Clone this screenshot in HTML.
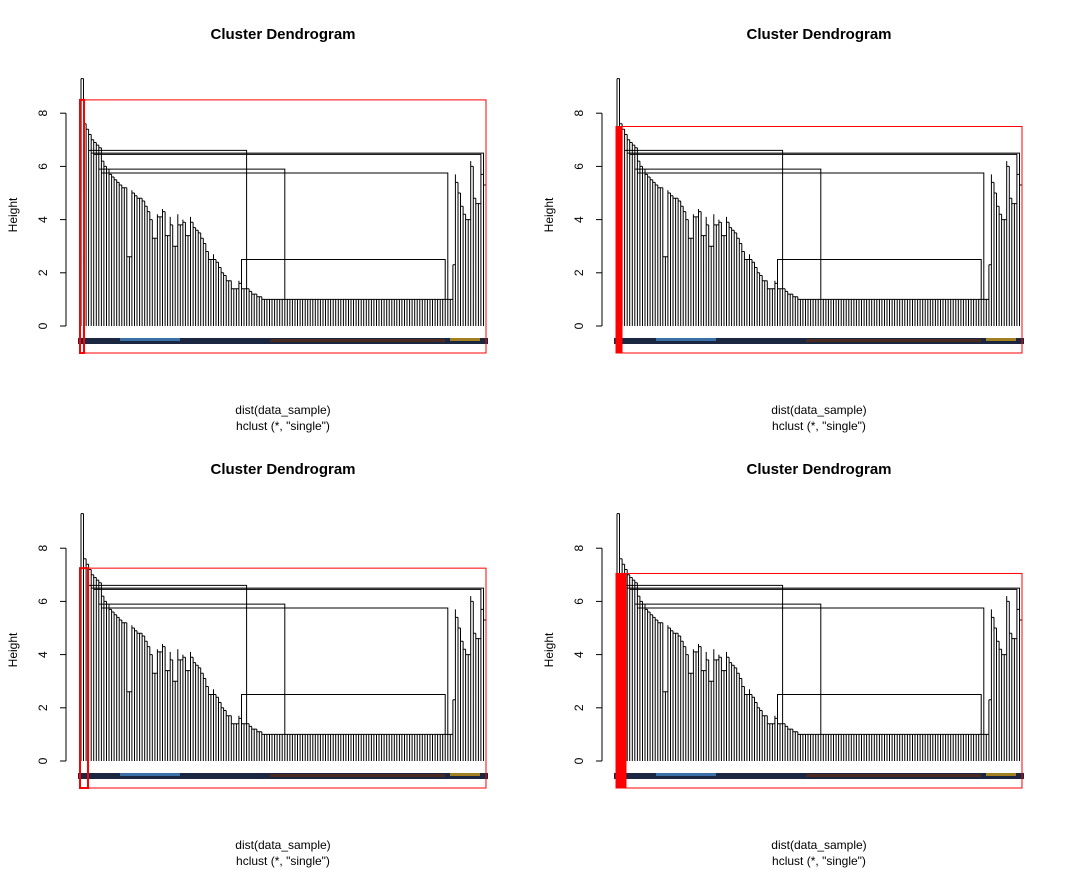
<!DOCTYPE html>
<html><head><meta charset="utf-8">
<style>
html,body{margin:0;padding:0;background:#fff;}
svg{display:block;font-family:"Liberation Sans",Arial,sans-serif;}
</style></head>
<body>
<svg id="chart" width="1071" height="870" viewBox="0 0 1071 870"></svg>
<script>
// leaf merge heights (left to right)
const leafHeights = [9.3,9.3,7.6,7.4,7.2,7.0,6.9,6.8,6.7,
6.2,6.0,5.9,5.7,5.6,5.5,5.4,5.3,5.2,5.2,2.6,5.1,5.0,4.9,4.8,4.8,4.7,4.5,4.3,4.0,3.3,4.2,4.1,4.4,4.3,3.4,4.1,3.8,3.0,4.2,3.8,4.0,3.9,3.4,4.1,3.9,3.7,3.6,3.5,3.3,3.1,2.8,2.5,2.7,2.5,2.4,2.2,2.0,1.9,1.7,1.7,1.4,1.4,1.7,1.6,1.4,1.4,1.4,1.3,1.2,1.2,1.1,1.1,
1.0,1.0,1.0,1.0,1.0,1.0,1.0,1.0,1.0,1.0,1.0,1.0,1.0,1.0,1.0,1.0,1.0,1.0,1.0,1.0,1.0,1.0,1.0,1.0,1.0,1.0,1.0,1.0,1.0,1.0,1.0,1.0,1.0,1.0,1.0,1.0,1.0,1.0,1.0,1.0,1.0,1.0,1.0,1.0,1.0,1.0,1.0,1.0,1.0,1.0,1.0,1.0,1.0,1.0,1.0,1.0,1.0,1.0,1.0,1.0,1.0,1.0,1.0,1.0,1.0,1.0,1.0,1.0,1.0,1.0,1.0,1.0,1.0,1.0,
2.3,5.7,5.4,5.0,4.5,4.2,4.0,6.2,6.0,4.8,4.6,6.4,5.7,5.3];
// extra long brackets: [leftLeaf, rightLeaf, height]
const bracketLeft = [3,4,5,7,8,63,72,0];
const bracketRight = [65,158,157,80,144,143,143,1];
const bracketHeight = [6.6,6.5,6.45,5.9,5.75,2.5,1.0,9.3];
const yTicks = [0,2,4,6,8];
// cut heights of red rectangles per panel
const cutHeights = [8.5,7.5,7.25,7.05];
const stripWidths = [4,6,8,10];
const stripFilled = [false,true,false,true];

const NS="http://www.w3.org/2000/svg";
const svg=document.getElementById('chart');
function mk(tag,attrs,parent){const e=document.createElementNS(NS,tag);for(const k in attrs)e.setAttribute(k,attrs[k]);(parent||svg).appendChild(e);return e;}

function drawPanel(p,ox,oy){
  const g=mk('g',{transform:`translate(${ox},${oy})`});
  
  
  const y0=326, sc=26.6, xL=81, xR=486;
  const n=leafHeights.length;
  const X=i=>xL+i*(xR-xL)/(n-1);
  const Y=v=>y0-v*sc;
  const t=mk('text',{x:283,y:39,'text-anchor':'middle','font-size':15,'font-weight':'bold'},g);
  t.textContent='Cluster Dendrogram';
  
  
  const ax=mk('g',{},g);
  
  
  mk('line',{x1:66,x2:66,y1:Y(0),y2:Y(8),stroke:'#000'},ax);
  yTicks.forEach(v=>{
    mk('line',{x1:60,x2:66,y1:Y(v),y2:Y(v),stroke:'#000'},ax);
    const tl=mk('text',{x:0,y:0,'text-anchor':'middle','font-size':12,transform:`translate(47,${Y(v)}) rotate(-90)`},ax);
    tl.textContent=v;
    
    
  });
  const yt=mk('text',{x:0,y:0,'text-anchor':'middle','font-size':12,transform:`translate(17,215) rotate(-90)`},g);
  yt.textContent='Height';
  
  
  const x1=mk('text',{x:283,y:414,'text-anchor':'middle','font-size':12},g);
  x1.textContent='dist(data_sample)';
  
  
  const x2=mk('text',{x:283,y:430,'text-anchor':'middle','font-size':12},g);
  x2.textContent='hclust (*, "single")';
  
  
  // leaf labels band
  const lb=mk('rect',{x:78,y:338,width:410,height:6,fill:'#1b2640'},g);
  
  
  mk('rect',{x:120,y:338,width:60,height:3,fill:'#3a6fa8'},g);
  mk('rect',{x:270,y:339,width:175,height:3,fill:'#4a2a20'},g);
  mk('rect',{x:450,y:338,width:30,height:3,fill:'#a08020'},g);
  const tree=mk('g',{stroke:'#000','stroke-width':1,fill:'none'},g);
  
  
  let d='';
  for(let i=0;i<n;i++){
    d+=`M${X(i).toFixed(1)},${Y(0)}V${Y(leafHeights[i]).toFixed(1)}`;
    if(i<n-1){
      const h=Math.min(leafHeights[i],leafHeights[i+1]);
      d+=`M${X(i).toFixed(1)},${Y(h).toFixed(1)}H${X(i+1).toFixed(1)}`;
    }
  }
  for(let k=0;k<bracketLeft.length;k++){
    const a=X(bracketLeft[k]),b=X(bracketRight[k]),h=Y(bracketHeight[k]);
    d+=`M${a.toFixed(1)},${Y(leafHeights[bracketLeft[k]]).toFixed(1)}V${h.toFixed(1)}H${b.toFixed(1)}V${Y(leafHeights[bracketRight[k]]).toFixed(1)}`;
  }
  mk('path',{d:d},tree);
  // red cut rectangles
  const top=Y(cutHeights[p]);
  const r=mk('rect',{x:80,y:top,width:406,height:353-top,fill:'none',stroke:'#f00','stroke-width':1},g);
  
  
  const s=mk('rect',{x:80,y:top,width:stripWidths[p],height:353-top,fill:stripFilled[p]?'#f00':'none',stroke:'#f00','stroke-width':stripFilled[p]?1:2},g);
  
  
}
drawPanel(0,0,0);
drawPanel(1,536,0);
drawPanel(2,0,435);
drawPanel(3,536,435);
</script>
</body></html>
